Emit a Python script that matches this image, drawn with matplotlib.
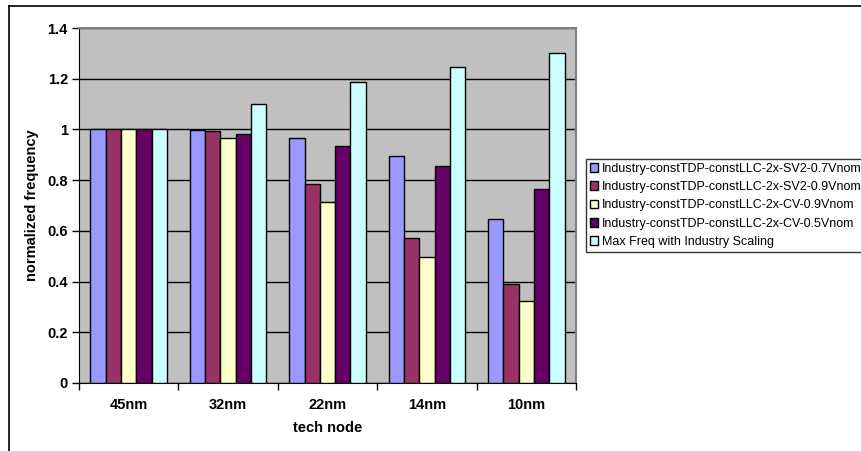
import numpy as np
import matplotlib.pyplot as plt
from matplotlib.lines import Line2D

plt.rcParams['font.family'] = ['Liberation Sans', 'DejaVu Sans']

nodes = ["45nm", "32nm", "22nm", "14nm", "10nm"]
series_names = [
    "Industry-constTDP-constLLC-2x-SV2-0.7Vnom",
    "Industry-constTDP-constLLC-2x-SV2-0.9Vnom",
    "Industry-constTDP-constLLC-2x-CV-0.9Vnom",
    "Industry-constTDP-constLLC-2x-CV-0.5Vnom",
    "Max Freq with Industry Scaling",
]
sv2_07 = [1.0, 0.997, 0.965, 0.897, 0.645]
sv2_09 = [1.0, 0.995, 0.786, 0.570, 0.390]
cv_09 = [1.0, 0.968, 0.715, 0.495, 0.323]
cv_05 = [1.0, 0.982, 0.936, 0.856, 0.764]
max_freq = [1.0, 1.101, 1.189, 1.248, 1.301]
colors = ["#9999FF", "#993366", "#FFFFCC", "#660066", "#CCFFFF"]

fig = plt.figure(figsize=(8.62, 4.51), dpi=100)
ax = fig.add_axes([79 / 862, 1 - 383 / 451, (576 - 79) / 862, (383 - 28) / 451])
ax.set_facecolor("#C0C0C0")

x = np.arange(len(nodes))
width = 1 / 6.5
for j, (vals, name, c) in enumerate(zip([sv2_07, sv2_09, cv_09, cv_05, max_freq],
                                         series_names, colors)):
    ax.bar(x + (j - 2) * width, vals, width, color=c, edgecolor="black",
           linewidth=1, label=name, zorder=3)

ax.set_xlim(-0.5, 4.5)
ax.set_ylim(0, 1.4)
ax.set_yticks(np.arange(0, 1.41, 0.2))
ax.set_yticklabels(["0", "0.2", "0.4", "0.6", "0.8", "1", "1.2", "1.4"])
ax.yaxis.grid(True, color="black", linewidth=1)
ax.set_axisbelow(True)

ax.set_xticks(x)
ax.set_xticklabels(nodes)
ax.set_xticks(np.arange(-0.5, 5, 1), minor=True)
ax.tick_params(axis="x", which="major", length=0, pad=11)
ax.tick_params(axis="x", which="minor", length=5, width=1, direction="out")
ax.tick_params(axis="y", length=5, width=1, direction="out", pad=3)
for lbl in ax.get_xticklabels() + ax.get_yticklabels():
    lbl.set_fontsize(10.5)
    lbl.set_fontweight("bold")

ax.spines["top"].set_color("#808080")
ax.spines["right"].set_color("#808080")
ax.spines["top"].set_linewidth(1.5)
ax.spines["right"].set_linewidth(1.5)

ax.set_xlabel("tech node", fontsize=10.5, fontweight="bold", labelpad=6)
ax.set_ylabel("normalized frequency", fontsize=10.5, fontweight="bold", labelpad=6)

leg = fig.legend(loc="upper left", bbox_to_anchor=(586 / 862, 1 - 159 / 451),
                 fontsize=9, frameon=True, fancybox=False, handlelength=0.7,
                 handleheight=0.7, handletextpad=0.3, labelspacing=0.5,
                 borderpad=0.3, borderaxespad=0)
leg.get_frame().set_edgecolor("black")
leg.get_frame().set_linewidth(1)

# outer chart frame
fig.add_artist(Line2D([9.5 / 862, 9.5 / 862], [0, 1 - 5.5 / 451], color="black", lw=1.2))
fig.add_artist(Line2D([9.5 / 862, 1], [1 - 5.5 / 451, 1 - 5.5 / 451], color="black", lw=1.2))

fig.savefig("out.png", dpi=100)
